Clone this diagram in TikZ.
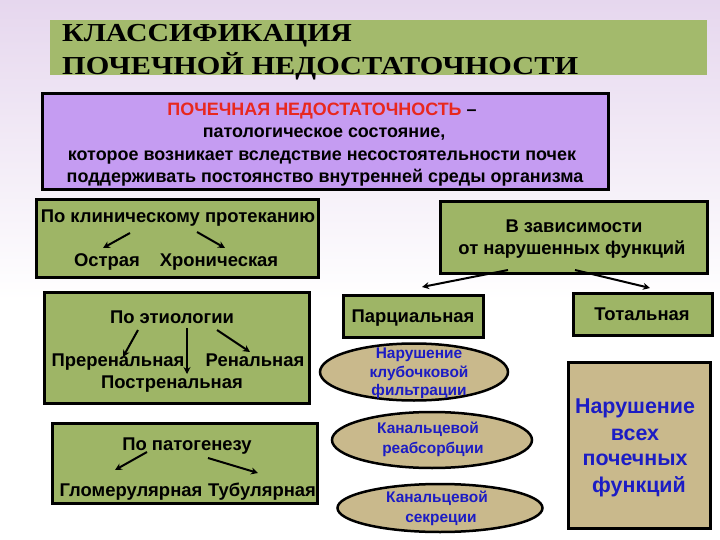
\documentclass[tikz,border=0pt]{standalone}
\usepackage{fontspec}
\setmainfont{Liberation Sans}
\newfontfamily\titlefont{Liberation Serif}
\usetikzlibrary{arrows.meta,shapes.geometric}
\definecolor{bglav}{HTML}{E6D7EE}
\definecolor{grn}{HTML}{9EB566}
\definecolor{titlegrn}{HTML}{A3BA6C}
\definecolor{purp}{HTML}{C59CF2}
\definecolor{tanc}{HTML}{C9B98C}
\definecolor{blu}{HTML}{1C1CC4}
\definecolor{redt}{HTML}{E8281E}
\begin{document}
\begin{tikzpicture}[x=1bp,y=-1bp,
  box/.style={draw=black,line width=3bp,fill=grn,inner sep=0pt},
  lbl/.style={font=\bfseries\fontsize{18.5}{20}\selectfont,inner sep=0pt,anchor=base},
  dlbl/.style={font=\bfseries\fontsize{18}{20}\selectfont,inner sep=0pt,anchor=base},
  arr/.style={-{Stealth[length=7bp,width=7bp]},line width=2bp},
  ell/.style={ellipse,draw=black,line width=2.5bp,fill=tanc,inner sep=0pt},
  bl/.style={font=\bfseries\fontsize{15.5}{19}\selectfont,text=blu,inner sep=0pt,anchor=base},
  big/.style={font=\bfseries\fontsize{21.5}{26}\selectfont,text=blu,inner sep=0pt,anchor=base},
  ttl/.style={font=\titlefont\bfseries\fontsize{26}{33}\selectfont,inner sep=0pt,anchor=base west}]
\useasboundingbox (0,0) rectangle (720,540);
\shade[top color=bglav,bottom color=white] (0,0) rectangle (720,300);
\fill[white] (0,300) rectangle (720,540);
% title
\node[fill=titlegrn,minimum width=657bp,minimum height=55bp,inner sep=0pt] (tb) at (378.5,48) {};
\node[ttl] (tt1) at (62,42) {\scalebox{1.15}[1]{КЛАССИФИКАЦИЯ}};
\node[ttl] (tt2) at (62,75) {\scalebox{1.17}[1]{ПОЧЕЧНОЙ НЕДОСТАТОЧНОСТИ}};
% definition
\node[draw=black,line width=3bp,fill=purp,minimum width=565bp,minimum height=96bp,inner sep=0pt] (def) at (325.5,142) {};
\node[dlbl] (d1) at (322,116) {\textcolor{redt}{ПОЧЕЧНАЯ НЕДОСТАТОЧНОСТЬ} –};
\node[dlbl] (d2) at (324,138) {патологическое состояние,};
\node[dlbl] (d3) at (322,161) {которое возникает вследствие несостоятельности почек};
\node[dlbl] (d4) at (325,183) {поддерживать постоянство внутренней среды организма};
% box 1
\node[box,minimum width=281bp,minimum height=77bp] (b1) at (177.5,238.5) {};
\node[lbl] (b1t) at (178,223) {По клиническому протеканию};
\node[lbl] (b1a) at (107,267) {Острая};
\node[lbl] (b1b) at (219,267) {Хроническая};
\draw[arr] (130,233) -- (103,248);
\draw[arr] (197,232) -- (225,248);
% box 2
\node[box,minimum width=264bp,minimum height=110bp] (b2) at (177,348) {};
\node[lbl] (b2t) at (172,323) {По этиологии};
\node[lbl] (b2a) at (118,366) {Преренальная};
\node[lbl] (b2b) at (255,366) {Ренальная};
\node[lbl] (b2c) at (172,388) {Постренальная};
\draw[arr] (138,330) -- (123,357);
\draw[arr] (187,328) -- (187,374);
\draw[arr] (217,330) -- (250,352);
% box 3
\node[box,minimum width=264bp,minimum height=80bp] (b3) at (185,463) {};
\node[lbl] (b3t) at (187,450) {По патогенезу};
\node[lbl] (b3a) at (131,496) {Гломерулярная};
\node[lbl] (b3b) at (262,496) {Тубулярная};
\draw[arr] (147,452) -- (115,470);
\draw[arr] (208,458) -- (258,473);
% right
\node[box,minimum width=267bp,minimum height=71bp] (fn) at (573.5,237.5) {};
\node[lbl] (fn1) at (574,233) {В зависимости};
\node[lbl] (fn2) at (572,255) {от нарушенных функций};
\node[box,minimum width=140bp,minimum height=42bp] (par) at (413,316) {};
\node[lbl] (parl) at (413,322) {Парциальная};
\node[box,minimum width=139bp,minimum height=42bp] (tot) at (642.5,314) {};
\node[lbl] (totl) at (642,320) {Тотальная};
\draw[arr] (508,270) -- (422,287);
\draw[arr] (575,270) -- (650,288);
\node[ell,minimum width=188bp,minimum height=57bp] (e1) at (414,372) {};
\node[bl] (e1a) at (419,358) {Нарушение};
\node[bl] (e1b) at (419,377) {клубочковой};
\node[bl] (e1c) at (419,395) {фильтрации};
\node[ell,minimum width=200bp,minimum height=56bp] (e2) at (432,440) {};
\node[bl] (e2a) at (428,433) {Канальцевой};
\node[bl] (e2b) at (433,453) {реабсорбции};
\node[ell,minimum width=205bp,minimum height=48bp] (e3) at (440,508) {};
\node[bl] (e3a) at (437,502) {Канальцевой};
\node[bl] (e3b) at (441,522) {секреции};
\node[draw=black,line width=3bp,fill=tanc,minimum width=142bp,minimum height=166bp,inner sep=0pt] (all) at (639,445) {};
\node[big] (a1) at (635,413) {Нарушение};
\node[big] (a2) at (635,440) {всех};
\node[big] (a3) at (635,465) {почечных};
\node[big] (a4) at (639,492) {функций};
\end{tikzpicture}
\end{document}
